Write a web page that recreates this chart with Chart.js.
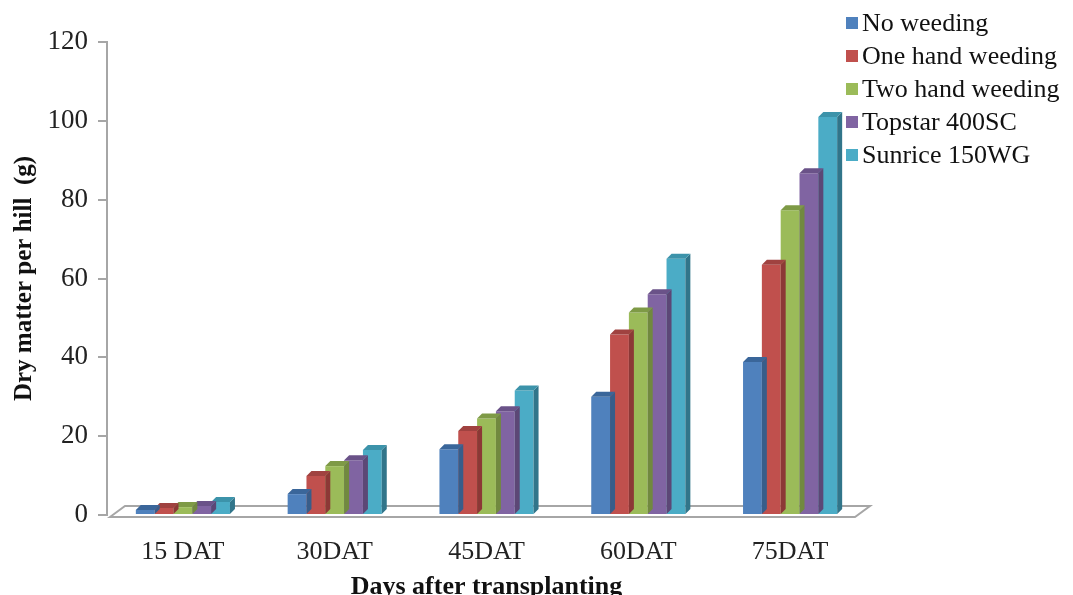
<!DOCTYPE html>
<html>
<head>
<meta charset="utf-8">
<script src="https://cdn.jsdelivr.net/npm/chart.js@4.4.1/dist/chart.umd.min.js"></script>
<style>
  body { margin: 0; background: #fff; }
  #wrap { position: relative; width: 1073px; height: 595px; }
  #legend { position: absolute; left: 846px; top: 6px; font-family: "Liberation Serif", serif; font-size: 26px; color: #111; }
  #legend div { height: 33px; line-height: 33px; white-space: nowrap; }
  #legend span { display: inline-block; width: 12px; height: 12px; margin-right: 4px; vertical-align: 2px; }
</style>
</head>
<body>
<div id="wrap">
  <canvas id="chart" width="1073" height="595"></canvas>
  <div id="legend"></div>
</div>
<script>
const categories = ["15 DAT", "30DAT", "45DAT", "60DAT", "75DAT"];
const seriesNames = ["No weeding", "One hand weeding", "Two hand weeding", "Topstar 400SC", "Sunrice 150WG"];
const noWeeding = [1.3, 5.3, 16.7, 30, 38.8];
const oneHand = [1.8, 9.9, 21.3, 45.8, 63.5];
const twoHand = [2.0, 12.4, 24.5, 51.4, 77.3];
const topstar = [2.3, 13.9, 26.3, 56, 86.7];
const sunrice = [3.3, 16.5, 31.6, 65, 101];
const yTicks = [0, 20, 40, 60, 80, 100, 120];

const fronts = ["#4F81BD", "#C0504D", "#9BBB59", "#8064A2", "#4BACC6"];
const sides = ["#385D8A", "#8C3836", "#71893F", "#5C4776", "#31758A"];
const tops = ["#3A669A", "#A04240", "#7E9A46", "#6A5288", "#3C93AA"];

const font = "'Liberation Serif', 'Times New Roman', serif";

// 3D side and top of each bar, drawn per dataset so the next series covers it
const bar3d = {
  id: "bar3d",
  afterDatasetDraw(chart, args) {
    const ctx = chart.ctx;
    const i = args.index;
    const dx = 5, dy = 5;
    chart.getDatasetMeta(i).data.forEach((bar) => {
      const { x, y, base, width } = bar.getProps(["x", "y", "base", "width"], true);
      const l = x - width / 2, r = x + width / 2;
      ctx.save();
      ctx.fillStyle = sides[i];
      ctx.beginPath();
      ctx.moveTo(r, y);
      ctx.lineTo(r + dx, y - dy);
      ctx.lineTo(r + dx, base - dy);
      ctx.lineTo(r, base);
      ctx.closePath();
      ctx.fill();
      ctx.fillStyle = tops[i];
      ctx.beginPath();
      ctx.moveTo(l, y);
      ctx.lineTo(l + dx, y - dy);
      ctx.lineTo(r + dx, y - dy);
      ctx.lineTo(r, y);
      ctx.closePath();
      ctx.fill();
      ctx.restore();
    });
  },
};

// floor of the 3D plot
const floor = {
  id: "floor",
  beforeDatasetsDraw(chart) {
    const { ctx, chartArea } = chart;
    const b = chart.scales.y.getPixelForValue(0);
    ctx.save();
    ctx.strokeStyle = "#A6A6A6";
    ctx.lineWidth = 2;
    ctx.beginPath();
    ctx.moveTo(chartArea.left + 3, b + 2);
    ctx.lineTo(chartArea.left + 18, b - 9);
    ctx.lineTo(chartArea.right + 4, b - 9);
    ctx.lineTo(chartArea.right - 11, b + 2);
    ctx.closePath();
    ctx.stroke();
    ctx.restore();
  },
};

const datasets = [noWeeding, oneHand, twoHand, topstar, sunrice].map((data, i) => ({
  label: seriesNames[i],
  data: data,
  backgroundColor: fronts[i],
  borderWidth: 0,
  categoryPercentage: 0.62,
  barPercentage: 1,
}));

new Chart(document.getElementById("chart"), {
  type: "bar",
  data: { labels: categories, datasets: datasets },
  plugins: [floor, bar3d],
  options: {
    responsive: false,
    animation: false,
    layout: { padding: { left: 0, right: 207, top: 42, bottom: 0 } },
    plugins: {
      legend: { display: false },
      tooltip: { enabled: false },
    },
    scales: {
      x: {
        grid: { display: false },
        border: { display: false },
        ticks: { color: "#222", font: { family: font, size: 26 }, padding: 14 },
        title: {
          display: true,
          text: "Days after transplanting",
          color: "#111",
          font: { family: font, size: 26, weight: "bold" },
          padding: { top: 0, bottom: -8 },
        },
        afterFit(scale) { scale.height = 80; },
      },
      y: {
        min: 0,
        max: 120,
        afterBuildTicks(scale) { scale.ticks = yTicks.map((v) => ({ value: v })); },
        grid: { drawOnChartArea: false, tickLength: 9, color: "#A6A6A6", lineWidth: 2 },
        border: { color: "#A6A6A6", width: 2 },
        ticks: { color: "#222", font: { family: font, size: 27 }, padding: 10 },
        title: {
          display: true,
          text: "Dry matter per hill  (g)",
          color: "#111",
          font: { family: font, size: 25, weight: "bold" },
          padding: { top: 10, bottom: 8 },
        },
        afterFit(scale) { scale.width = 107; },
      },
    },
  },
});

document.getElementById("legend").innerHTML = seriesNames
  .map((n, i) => `<div><span style="background:${fronts[i]}"></span>${n}</div>`)
  .join("");
</script>
</body>
</html>
